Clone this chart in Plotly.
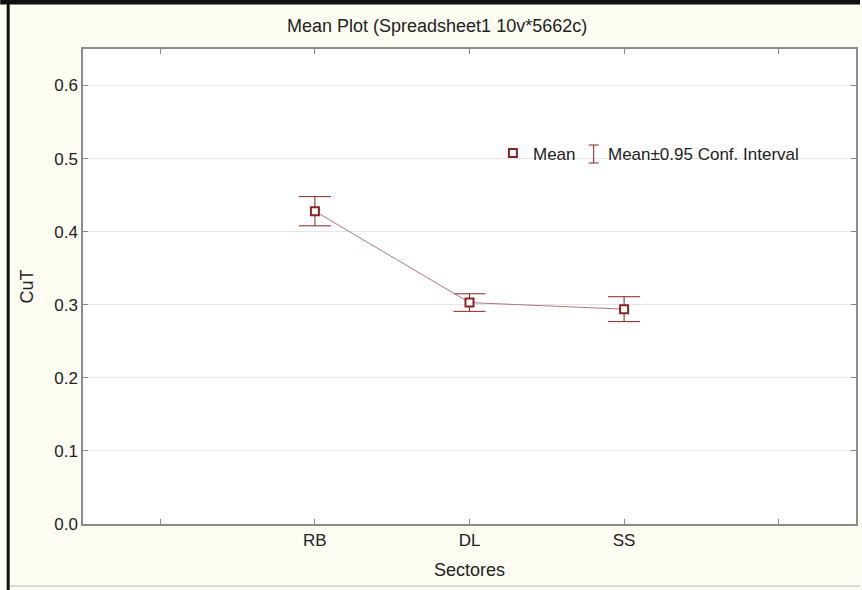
import plotly.graph_objects as go

# Category layout: empty slots on both sides of the three sectors
tick_positions = [0, 1, 2, 3, 4]
tick_labels = ["", "RB", "DL", "SS", ""]

sectors = ["RB", "DL", "SS"]
sector_x = [1, 2, 3]
cut_mean = [0.428, 0.303, 0.294]
cut_ci = [0.020, 0.012, 0.017]  # half-width of the 0.95 confidence interval

y_ticks = [0.0, 0.1, 0.2, 0.3, 0.4, 0.5, 0.6]

FONT = "Liberation Sans, Arial, sans-serif"
DARK_RED = "#8a2323"
LINE_RED = "#b07878"
PAPER = "#fefdf2"

# page geometry (pixels)
W, H = 862, 590
L, R, T, B = 83, 4, 49, 66
PW, PH = W - L - R, H - T - B


def px(xp):
    return (xp - L) / PW


def py(yp):
    return (H - B - yp) / PH


fig = go.Figure()

fig.add_trace(go.Scatter(
    x=sector_x,
    y=cut_mean,
    mode="lines+markers",
    line=dict(color=LINE_RED, width=1),
    marker=dict(symbol="square", size=8, color="white",
                line=dict(color=DARK_RED, width=2)),
    error_y=dict(type="data", array=cut_ci, visible=True,
                 color=DARK_RED, thickness=1, width=16),
    text=sectors,
    showlegend=False,
))

shapes = []
# legend: mean marker
shapes.append(dict(type="rect", xref="paper", yref="paper",
                   x0=px(510), x1=px(518), y0=py(157), y1=py(149),
                   line=dict(color=DARK_RED, width=2), fillcolor="white"))
# legend: confidence interval I-beam
for seg in [(595, 145, 595, 163), (590, 145, 600, 145), (590, 163, 600, 163)]:
    shapes.append(dict(type="line", xref="paper", yref="paper",
                       x0=px(seg[0]), y0=py(seg[1]), x1=px(seg[2]), y1=py(seg[3]),
                       line=dict(color=DARK_RED, width=1)))
# page frame
shapes.append(dict(type="line", xref="paper", yref="paper",
                   x0=px(8), x1=px(8), y0=py(0), y1=py(590),
                   line=dict(color="#111111", width=3)))
shapes.append(dict(type="line", xref="paper", yref="paper",
                   x0=px(0), x1=px(862), y0=py(2), y1=py(2),
                   line=dict(color="#111111", width=5)))
shapes.append(dict(type="line", xref="paper", yref="paper",
                   x0=px(10), x1=px(862), y0=py(586), y1=py(586),
                   line=dict(color="#cfcfcf", width=1.5)))

annotations = [
    dict(text="Mean", xref="paper", yref="paper", x=px(532), y=py(154),
         xanchor="left", yanchor="middle", showarrow=False,
         font=dict(family=FONT, size=17, color="#222222")),
    dict(text="Mean±0.95 Conf. Interval", xref="paper", yref="paper",
         x=px(607), y=py(154), xanchor="left", yanchor="middle", showarrow=False,
         font=dict(family=FONT, size=17, color="#222222")),
    dict(text="Mean Plot (Spreadsheet1 10v*5662c)", xref="paper", yref="paper",
         x=px(438), y=py(26), xanchor="center", yanchor="middle", showarrow=False,
         font=dict(family=FONT, size=18, color="#222222")),
]

fig.update_layout(
    width=W, height=H,
    margin=dict(l=L, r=R, t=T, b=B),
    paper_bgcolor=PAPER,
    plot_bgcolor="white",
    font=dict(family=FONT, size=17, color="#333333"),
    shapes=shapes,
    annotations=annotations,
    showlegend=False,
)

fig.update_xaxes(
    range=[-0.5, 4.5],
    tickmode="array", tickvals=tick_positions, ticktext=tick_labels,
    ticks="inside", ticklen=5, tickcolor="#888888", tickwidth=1,
    showline=True, linecolor="#8c8c8c", linewidth=1.5, mirror="ticks",
    showgrid=False, zeroline=False,
    tickfont=dict(family=FONT, size=17, color="#222222"),
    title=dict(text="Sectores", standoff=14,
               font=dict(family=FONT, size=18, color="#222222")),
)

fig.update_yaxes(
    range=[0, 0.65],
    tickmode="array", tickvals=y_ticks,
    ticktext=[f"{v:.1f}" for v in y_ticks],
    ticks="inside", ticklen=5, tickcolor="#888888", tickwidth=1,
    showline=True, linecolor="#8c8c8c", linewidth=1.5, mirror="ticks",
    showgrid=True, gridcolor="#e6e6e6", gridwidth=1,
    zeroline=False,
    tickfont=dict(family=FONT, size=17, color="#222222"),
    title=dict(text="CuT", standoff=16,
               font=dict(family=FONT, size=18, color="#222222")),
)

fig.write_html("out.html")
